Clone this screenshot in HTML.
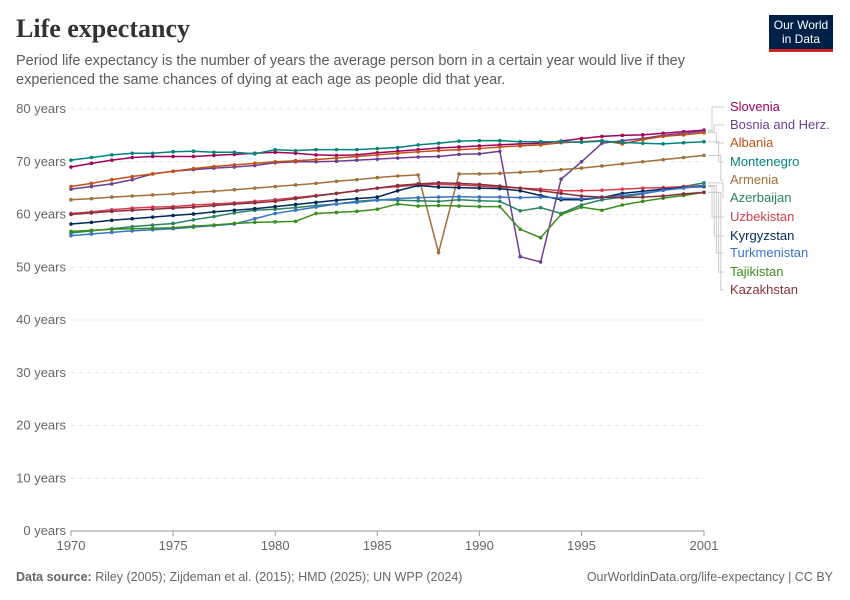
<!DOCTYPE html>
<html><head><meta charset="utf-8"><style>
body{margin:0;background:#fff;font-family:"Liberation Sans",sans-serif}
#wrap{position:relative;width:850px;height:600px}
.t{position:absolute;margin:0}
</style></head><body>
<div id="wrap">
<div class="t" style="left:16px;top:14px;font-family:'Liberation Serif',serif;font-size:26px;font-weight:bold;color:#333">Life expectancy</div>
<div class="t" style="left:16px;top:52px;font-size:14.5px;line-height:19px;color:#5b5b5b;width:700px">Period life expectancy is the number of years the average person born in a certain year would live if they experienced the same chances of dying at each age as people did that year.</div>
<div class="t" style="left:769px;top:15px;width:64px;height:37px;background:#002147;color:#fff;font-size:12px;line-height:14px;text-align:center;padding-top:3px;box-sizing:border-box;border-bottom:3px solid #ce261e">Our World<br>in Data</div>
<div class="t" style="left:16px;top:570px;font-size:12.5px;color:#666"><b>Data source:</b> Riley (2005); Zijdeman et al. (2015); HMD (2025); UN WPP (2024)</div>
<div class="t" style="right:17px;top:570px;font-size:12.5px;color:#666">OurWorldinData.org/life-expectancy | CC BY</div>
<svg id="svg" width="850" height="600" style="position:absolute;left:0;top:0"></svg>
</div>
<script>
const years=[];for(let y=1970;y<=2001;y++)years.push(y);
const yTicks=[0,10,20,30,40,50,60,70,80];
const xTicks=[1970,1975,1980,1985,1990,1995,2001];
const countries=["Slovenia","Bosnia and Herz.","Albania","Montenegro","Armenia","Azerbaijan","Uzbekistan","Kyrgyzstan","Turkmenistan","Tajikistan","Kazakhstan"];
const colors=["#a2005e","#6d3e91","#c15117","#00847e","#a2703c","#2c8465","#d73c50","#00295b","#3a74c4","#3a8e1e","#883039"];
const labelY=[111,129,147,166,184,202,221,240,257,276,294];
const sSlovenia=[69,69.7,70.3,70.8,71,71,71,71.2,71.4,71.6,71.8,71.6,71.3,71.2,71.3,71.7,72,72.3,72.6,72.8,73,73.2,73.4,73.5,73.9,74.4,74.8,75,75.1,75.4,75.7,76];
const sBosnia=[64.8,65.3,65.8,66.6,67.7,68.2,68.5,68.8,69,69.3,69.8,70,70,70.1,70.3,70.5,70.7,70.9,71,71.4,71.5,72,52,51,66.7,70,73.5,74,74.4,75,75.4,75.8];
const sAlbania=[65.3,65.9,66.6,67.2,67.7,68.2,68.7,69.1,69.4,69.7,70,70.2,70.4,70.7,71,71.3,71.6,71.9,72.1,72.3,72.5,72.8,73,73.2,73.6,73.8,74,73.4,74.2,74.8,75.1,75.5];
const sMontenegro=[70.3,70.8,71.3,71.6,71.6,71.9,72,71.8,71.8,71.5,72.3,72.1,72.3,72.3,72.3,72.5,72.7,73.2,73.5,73.9,74,74,73.8,73.8,73.8,73.7,73.9,73.7,73.5,73.4,73.6,73.8];
const sArmenia=[62.8,63,63.3,63.5,63.7,63.9,64.2,64.4,64.7,65,65.3,65.6,65.9,66.3,66.6,67,67.3,67.5,52.8,67.7,67.7,67.8,68,68.2,68.5,68.8,69.2,69.6,70,70.4,70.8,71.2];
const sAzerbaijan=[56.5,56.9,57.3,57.7,58,58.3,59,59.6,60.3,60.8,61,61.3,61.7,62,62.5,62.8,62.7,62.6,62.5,62.8,62.6,62.5,60.7,61.3,60.2,61.8,62.8,63.3,63.9,64.6,65.3,66];
const sUzbekistan=[60.2,60.5,60.9,61.2,61.4,61.5,61.8,62,62.2,62.5,62.8,63.2,63.6,64,64.5,65,65.3,65.6,65.7,65.6,65.4,65.2,65,64.8,64.5,64.5,64.6,64.8,65,65.1,65.3,65.5];
const sKyrgyzstan=[58.2,58.5,58.9,59.2,59.5,59.8,60.1,60.5,60.8,61.1,61.5,61.9,62.3,62.7,63,63.3,64.5,65.5,65.2,65.1,65,64.9,64.5,63.6,62.8,62.8,63.2,64,64.4,64.8,65.1,65.3];
const sTurkmenistan=[56,56.3,56.6,56.9,57.1,57.3,57.6,57.9,58.2,59.2,60.2,60.8,61.4,62,62.3,62.7,63,63.2,63.3,63.4,63.3,63.3,63.2,63.3,63.1,63,63.2,63.6,64,64.6,65,65.5];
const sTajikistan=[56.8,57,57.2,57.3,57.4,57.5,57.8,58,58.3,58.5,58.6,58.7,60.2,60.4,60.6,61,62,61.6,61.7,61.6,61.5,61.5,57.2,55.6,60,61.4,60.8,61.8,62.5,63.1,63.6,64.2];
const sKazakhstan=[60,60.3,60.6,60.8,61,61.2,61.4,61.7,62,62.2,62.5,63,63.5,64,64.5,65,65.5,65.8,66,65.9,65.7,65.4,65,64.5,64,63.5,63.3,63.2,63.3,63.5,63.9,64.2];
const series=[sSlovenia,sBosnia,sAlbania,sMontenegro,sArmenia,sAzerbaijan,sUzbekistan,sKyrgyzstan,sTurkmenistan,sTajikistan,sKazakhstan];
const X0=71,X1=704,Y0=531,Y80=109;
const xs=y=>X0+(y-1970)*(X1-X0)/31;
const ys=v=>Y0-v*(Y0-Y80)/80;
const svg=document.getElementById('svg');const NS='http://www.w3.org/2000/svg';
function mk(tag,attrs,parent){const e=document.createElementNS(NS,tag);for(const k in attrs)e.setAttribute(k,attrs[k]);(parent||svg).appendChild(e);return e;}
yTicks.forEach(v=>{
 const g=mk('line',{x1:X0,x2:X1,y1:ys(v),y2:ys(v),stroke:v===0?'#999':'#e3e3e3','stroke-dasharray':v===0?'':'4,4'});
 
 
 const t=mk('text',{x:66,y:ys(v)+4,'text-anchor':'end','font-size':13,fill:'#666','font-family':'Liberation Sans'});
 t.textContent=v+' years';
 
 
});
xTicks.forEach(yr=>{
 const l=mk('line',{x1:xs(yr),x2:xs(yr),y1:Y0,y2:Y0+5,stroke:'#999'});
 
 
 const t=mk('text',{x:xs(yr),y:Y0+19,'text-anchor':'middle','font-size':13,fill:'#666','font-family':'Liberation Sans'});
 t.textContent=yr;
 
 
});
series.forEach((s,i)=>{
 const g=mk('g',{});
 
 
 const pts=s.map((v,j)=>xs(years[j])+','+ys(v)).join(' ');
 mk('polyline',{points:pts,fill:'none',stroke:colors[i],'stroke-width':1.5},g);
 s.forEach((v,j)=>{const c=mk('circle',{cx:xs(years[j]),cy:ys(v),r:1.8,fill:colors[i]},g);
  
  });
 const ey=ys(s[s.length-1]);const bx=712+(i%6)*2.2;
 const c=mk('polyline',{points:`708,${ey} ${bx},${ey} ${bx},${labelY[i]-4} 724,${labelY[i]-4}`,fill:'none',stroke:'#ccc','stroke-width':1});
 
 
 const t=mk('text',{x:730,y:labelY[i],'font-size':13,fill:colors[i],'font-family':'Liberation Sans'});
 t.textContent=countries[i];
 
 
});
</script>
</body></html>
